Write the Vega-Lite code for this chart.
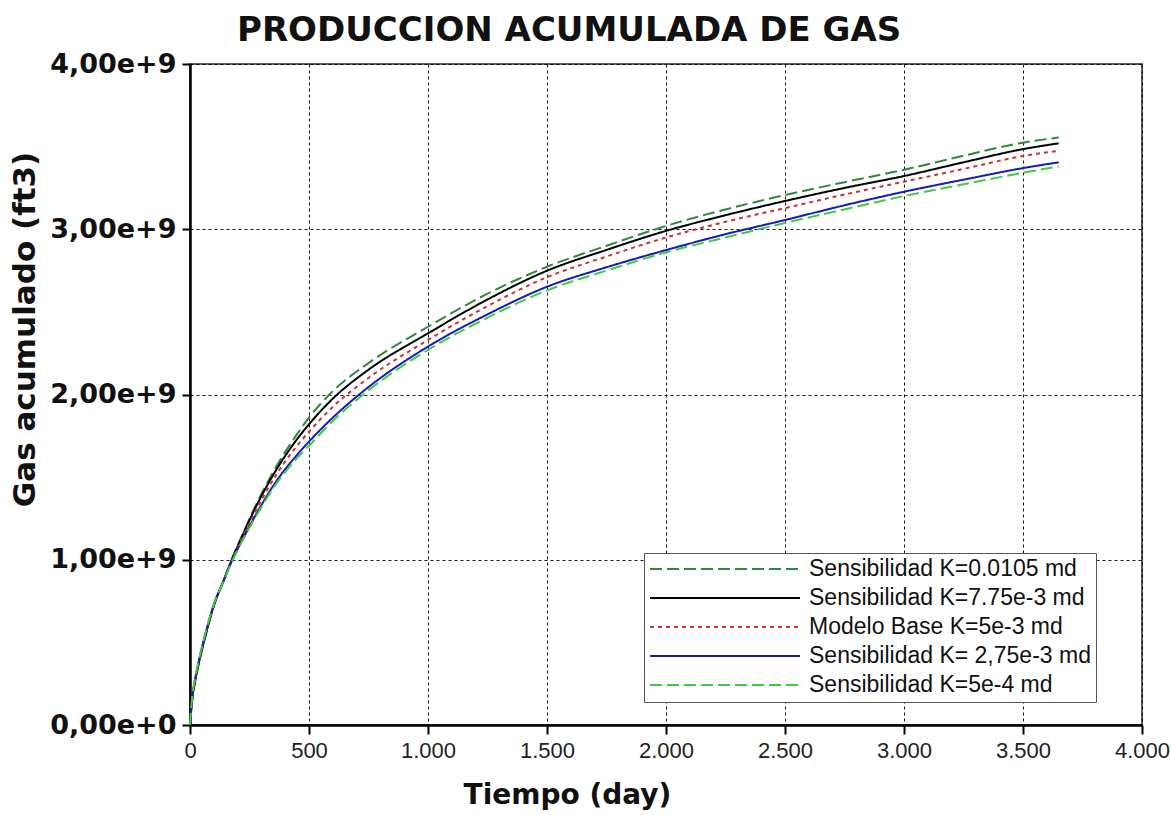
{
  "$schema": "https://vega.github.io/schema/vega-lite/v6.json",
  "width": 952,
  "height": 661,
  "autosize": {"type": "none"},
  "padding": {"left": 190, "top": 64, "right": 29, "bottom": 90},
  "background": "white",
  "title": {"text": "PRODUCCION ACUMULADA DE GAS", "font": "DejaVu Sans", "fontSize": 34, "fontWeight": "bold", "anchor": "start", "frame": "group", "dx": 47, "offset": 2, "color": "#111111"},
  "datasets": {
    "names": [
      {"k": "a", "serie": "Sensibilidad K=0.0105 md"},
      {"k": "b", "serie": "Sensibilidad K=7.75e-3 md"},
      {"k": "c", "serie": "Modelo Base K=5e-3 md"},
      {"k": "d", "serie": "Sensibilidad K= 2,75e-3 md"},
      {"k": "e", "serie": "Sensibilidad K=5e-4 md"}
    ]
  },
  "data": {
    "values": [
      {"t": 0, "a": 0, "b": 0, "c": 0, "d": 0, "e": 0},
      {"t": 10, "a": 0.16e9, "b": 0.165e9, "c": 0.17e9, "d": 0.175e9, "e": 0.18e9},
      {"t": 20, "a": 0.25e9, "b": 0.255e9, "c": 0.26e9, "d": 0.265e9, "e": 0.27e9},
      {"t": 40, "a": 0.39e9, "b": 0.395e9, "c": 0.40e9, "d": 0.405e9, "e": 0.41e9},
      {"t": 70, "a": 0.565e9, "b": 0.57e9, "c": 0.575e9, "d": 0.58e9, "e": 0.585e9},
      {"t": 100, "a": 0.72e9, "b": 0.722e9, "c": 0.725e9, "d": 0.728e9, "e": 0.73e9},
      {"t": 140, "a": 0.87e9, "b": 0.87e9, "c": 0.87e9, "d": 0.868e9, "e": 0.866e9},
      {"t": 175, "a": 1.0e9, "b": 0.998e9, "c": 0.995e9, "d": 0.99e9, "e": 0.985e9},
      {"t": 220, "a": 1.15e9, "b": 1.145e9, "c": 1.135e9, "d": 1.12e9, "e": 1.115e9},
      {"t": 270, "a": 1.31e9, "b": 1.30e9, "c": 1.28e9, "d": 1.255e9, "e": 1.245e9},
      {"t": 365, "a": 1.57e9, "b": 1.55e9, "c": 1.52e9, "d": 1.48e9, "e": 1.465e9},
      {"t": 450, "a": 1.76e9, "b": 1.73e9, "c": 1.69e9, "d": 1.635e9, "e": 1.615e9},
      {"t": 500, "a": 1.86e9, "b": 1.82e9, "c": 1.775e9, "d": 1.715e9, "e": 1.69e9},
      {"t": 600, "a": 2.02e9, "b": 1.975e9, "c": 1.925e9, "d": 1.86e9, "e": 1.84e9},
      {"t": 750, "a": 2.19e9, "b": 2.15e9, "c": 2.10e9, "d": 2.045e9, "e": 2.025e9},
      {"t": 1000, "a": 2.41e9, "b": 2.37e9, "c": 2.33e9, "d": 2.29e9, "e": 2.27e9},
      {"t": 1250, "a": 2.61e9, "b": 2.575e9, "c": 2.535e9, "d": 2.485e9, "e": 2.465e9},
      {"t": 1500, "a": 2.773e9, "b": 2.749e9, "c": 2.71e9, "d": 2.652e9, "e": 2.63e9},
      {"t": 1750, "a": 2.90e9, "b": 2.875e9, "c": 2.835e9, "d": 2.77e9, "e": 2.75e9},
      {"t": 2000, "a": 3.02e9, "b": 2.99e9, "c": 2.95e9, "d": 2.874e9, "e": 2.86e9},
      {"t": 2250, "a": 3.12e9, "b": 3.085e9, "c": 3.045e9, "d": 2.97e9, "e": 2.95e9},
      {"t": 2500, "a": 3.207e9, "b": 3.171e9, "c": 3.128e9, "d": 3.056e9, "e": 3.038e9},
      {"t": 2750, "a": 3.285e9, "b": 3.25e9, "c": 3.21e9, "d": 3.145e9, "e": 3.12e9},
      {"t": 3000, "a": 3.36e9, "b": 3.322e9, "c": 3.288e9, "d": 3.227e9, "e": 3.201e9},
      {"t": 3250, "a": 3.445e9, "b": 3.405e9, "c": 3.365e9, "d": 3.30e9, "e": 3.272e9},
      {"t": 3500, "a": 3.524e9, "b": 3.485e9, "c": 3.443e9, "d": 3.37e9, "e": 3.342e9},
      {"t": 3650, "a": 3.555e9, "b": 3.52e9, "c": 3.475e9, "d": 3.405e9, "e": 3.38e9}
    ]
  },
  "transform": [
    {"fold": ["a", "b", "c", "d", "e"], "as": ["k", "g"]},
    {"lookup": "k", "from": {"data": {"name": "names"}, "key": "k", "fields": ["serie"]}}
  ],
  "mark": {"type": "line", "strokeWidth": 2, "interpolate": "monotone"},
  "encoding": {
    "x": {
      "field": "t", "type": "quantitative",
      "scale": {"domain": [0, 4000], "nice": false},
      "axis": {
        "values": [0, 500, 1000, 1500, 2000, 2500, 3000, 3500, 4000],
        "labelExpr": "replace(format(datum.value, ','), ',', '.')",
        "title": "Tiempo (day)",
        "titleFont": "DejaVu Sans", "titleFontSize": 28, "titleFontWeight": "bold", "titleColor": "#111111",
        "titleX": 377, "titleY": 70, "titleBaseline": "middle", "titleAlign": "center",
        "labelFont": "Liberation Sans", "labelFontSize": 22, "labelColor": "#222222", "labelPadding": 6,
        "labelFlush": false, "labelOverlap": false,
        "tickSize": 9, "tickColor": "black", "tickWidth": 2,
        "domainColor": "black", "domainWidth": 2.5,
        "grid": true, "gridColor": "black", "gridDash": [3, 3], "gridWidth": 1, "gridOpacity": 0.9
      }
    },
    "y": {
      "field": "g", "type": "quantitative",
      "scale": {"domain": [0, 4000000000], "nice": false},
      "axis": {
        "values": [0, 1000000000, 2000000000, 3000000000, 4000000000],
        "labelExpr": "replace(format(datum.value, '.2e'), '.', ',')",
        "title": "Gas acumulado (ft3)",
        "titleFont": "DejaVu Sans", "titleFontSize": 31, "titleFontWeight": "bold", "titleColor": "#111111",
        "titleX": -165, "titleY": 265, "titleAngle": 270, "titleBaseline": "middle", "titleAlign": "center",
        "labelFont": "DejaVu Sans", "labelFontSize": 27, "labelFontWeight": "bold", "labelColor": "#111111", "labelPadding": 6,
        "labelFlush": false, "labelOverlap": false,
        "tickSize": 8, "tickColor": "black", "tickWidth": 2,
        "domainColor": "black", "domainWidth": 2.5,
        "grid": true, "gridColor": "black", "gridDash": [3, 3], "gridWidth": 1, "gridOpacity": 0.9
      }
    },
    "color": {
      "field": "serie", "type": "nominal",
      "scale": {
        "domain": ["Sensibilidad K=0.0105 md", "Sensibilidad K=7.75e-3 md", "Modelo Base K=5e-3 md", "Sensibilidad K= 2,75e-3 md", "Sensibilidad K=5e-4 md"],
        "range": ["#2e8a38", "#000000", "#d03030", "#1a1ab4", "#3ecc3e"]
      },
      "legend": {
        "title": null, "orient": "none", "legendX": 454, "legendY": 489, "direction": "vertical",
        "fillColor": "white", "strokeColor": "#555555", "padding": 5,
        "symbolType": "stroke", "symbolSize": 22500, "symbolStrokeWidth": 2, "clipHeight": 22,
        "labelFont": "Liberation Sans", "labelFontSize": 23, "labelColor": "#111111", "labelOffset": 8, "labelLimit": 500,
        "rowPadding": 6
      }
    },
    "strokeDash": {
      "field": "serie", "type": "nominal",
      "scale": {
        "domain": ["Sensibilidad K=0.0105 md", "Sensibilidad K=7.75e-3 md", "Modelo Base K=5e-3 md", "Sensibilidad K= 2,75e-3 md", "Sensibilidad K=5e-4 md"],
        "range": [[12, 5], [1, 0], [4, 4], [1, 0], [12, 5]]
      },
      "legend": {
        "title": null, "orient": "none", "legendX": 454, "legendY": 489, "direction": "vertical",
        "fillColor": "white", "strokeColor": "#555555", "padding": 5,
        "symbolType": "stroke", "symbolSize": 22500, "symbolStrokeWidth": 2, "clipHeight": 22,
        "labelFont": "Liberation Sans", "labelFontSize": 23, "labelColor": "#111111", "labelOffset": 8, "labelLimit": 500,
        "rowPadding": 6
      }
    }
  },
  "config": {"view": {"stroke": "#222222", "strokeWidth": 1.5}}
}
